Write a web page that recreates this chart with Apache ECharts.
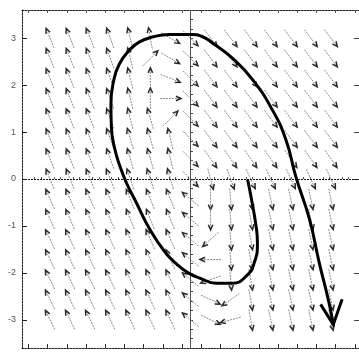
<!DOCTYPE html>
<html><head><meta charset="utf-8">
<script src="https://cdn.jsdelivr.net/npm/echarts@6/dist/echarts.min.js"></script>
<style>html,body{margin:0;padding:0;background:#fff}#c{width:359px;height:352px}</style>
</head><body><div id="c"></div>
<script>
// Direction-field grid (data units)
const gridX = [-3, -2.571, -2.143, -1.714, -1.286, -0.857, -0.429, 0, 0.429, 0.857, 1.286, 1.714, 2.143, 2.571, 3];
const gridY = [3, 2.571, 2.143, 1.714, 1.286, 0.857, 0.429, 0, -0.429, -0.857, -1.286, -1.714, -2.143, -2.571, -3];
// Arrow directions in degrees (counter-clockwise from +x), one row per gridY
const angleRows = [
  [112,112,112,110,104,100,-30,-45,-53,-53,-53,-53,-53,-53,-53],
  [112,112,112,110,104, 45,-30,-45,-53,-53,-53,-53,-53,-53,-53],
  [112,112,112,110,104, 90,-22,-45,-53,-53,-53,-53,-53,-53,-53],
  [112,112,112,110,104, 90,  0,-45,-53,-53,-53,-53,-53,-53,-53],
  [112,112,112,110,104,106, 45,-45,-53,-53,-53,-53,-53,-53,-53],
  [112,112,112,110,106,106,104,-45,-53,-53,-53,-53,-53,-53,-53],
  [112,112,112,110,106,106,104,-45,-55,-55,-55,-55,-55,-55,-55],
  [112,112,112,112,108,108,106,-45,-75,-70,-65,-65,-65,-65,-65],
  [114,114,114,114,112,112,112,140,-90,-85,-80,-78,-78,-78,-78],
  [114,114,114,114,112,112,112,140,-90,-85,-80,-78,-78,-78,-78],
  [115,115,115,115,114,114,114,140,222,-85,-80,-78,-78,-78,-78],
  [115,115,115,115,114,114,114,140,180,-85,-80,-78,-78,-78,-78],
  [116,116,116,116,115,115,115,140,200,-85,-80,-78,-78,-78,-78],
  [116,116,116,116,115,115,115,140,-25,215,-80,-78,-78,-78,-78],
  [116,116,116,116,115,115,115,140,-25,195,-80,-78,-78,-78,-78]
];
// Trajectory
const trajX = [1.22,1.29,1.40,1.43,1.36,1.19,0.90,0.55,0.20,-0.05,-0.30,-0.55,-0.87,-1.16,-1.37,-1.50,-1.62,-1.69,-1.70,-1.64,-1.52,-1.30,-1.09,-0.80,-0.45,0.01,0.26,0.48,0.90,1.33,1.75,2.04,2.25,2.54,2.75,2.96,3.05];
const trajY = [-0.01,-0.36,-1.00,-1.36,-1.79,-2.07,-2.22,-2.22,-2.11,-2.00,-1.81,-1.55,-1.07,-0.50,-0.08,0.25,0.65,1.10,1.60,2.10,2.45,2.75,2.92,3.03,3.08,3.08,3.03,2.89,2.57,2.11,1.47,0.83,0.05,-0.85,-1.78,-2.64,-3.10];
// Arrow head of the trajectory
const headX = [2.78, 3.05, 3.24];
const headY = [-2.67, -3.10, -2.56];
// Axis ticks
const yLabelValues = [-3,-2,-1,0,1,2,3];
const yMinorValues = [];
for (let v = -36; v <= 36; v += 2) yMinorValues.push(v/10);
const xMajorValues = [-3.47,-3.05,-2.64,-2.23,-1.82,-1.41,-1.0,-0.59,-0.18,0.23,0.64,1.05,1.46,1.87,2.28,2.69,3.1,3.51];
const xMinorValues = [];
for (let i = 0; i < xMajorValues.length - 1; i++) {
  const a = xMajorValues[i], b = xMajorValues[i+1];
  xMinorValues.push(a + (b-a)/3, a + 2*(b-a)/3);
}
const arrowLen = 0.45;

const arrowData = [];
gridY.forEach((y, r) => gridX.forEach((x, c) => arrowData.push([x, y, angleRows[r][c]])));

const chart = echarts.init(document.getElementById('c'), null, {renderer: 'canvas'});
const frameLine = {show: true, onZero: false, lineStyle: {color: '#222', width: 1, type: [2, 1]}};
const noLabel = {show: false};
chart.setOption({
  animation: false,
  backgroundColor: '#fff',
  grid: {left: 22, top: 10, width: 338, height: 338, containLabel: false},
  xAxis: [
    {type: 'value', min: -3.6, max: 3.6, position: 'bottom', axisLine: frameLine,
     axisTick: {show: true, inside: true, length: 4, customValues: xMajorValues, lineStyle: {color: '#333'}},
     axisLabel: noLabel, splitLine: {show: false}},
    {type: 'value', min: -3.6, max: 3.6, position: 'bottom', offset: 0, axisLine: {show: false},
     axisTick: {show: true, inside: true, length: 2, customValues: xMinorValues, lineStyle: {color: '#555'}},
     axisLabel: noLabel, splitLine: {show: false}},
    {type: 'value', min: -3.6, max: 3.6, position: 'top', axisLine: frameLine,
     axisTick: {show: true, inside: true, length: 3, customValues: xMajorValues, lineStyle: {color: '#555'}},
     axisLabel: noLabel, splitLine: {show: false}}
  ],
  yAxis: [
    {type: 'value', min: -3.6, max: 3.6, position: 'left', axisLine: frameLine,
     axisTick: {show: true, inside: true, length: 5, customValues: yLabelValues, lineStyle: {color: '#222'}},
     axisLabel: {show: true, customValues: yLabelValues, margin: 6, color: '#555', fontSize: 9, fontFamily: 'Liberation Sans'},
     splitLine: {show: false}},
    {type: 'value', min: -3.6, max: 3.6, position: 'left', offset: 0, axisLine: {show: false},
     axisTick: {show: true, inside: true, length: 2.5, customValues: yMinorValues, lineStyle: {color: '#444'}},
     axisLabel: noLabel, splitLine: {show: false}},
    {type: 'value', min: -3.6, max: 3.6, position: 'right', axisLine: frameLine,
     axisTick: {show: true, inside: true, length: 5, customValues: yLabelValues, lineStyle: {color: '#444'}},
     axisLabel: noLabel, splitLine: {show: false}}
  ],
  series: [
    {
      type: 'custom', xAxisIndex: 0, yAxisIndex: 0, silent: true, clip: true,
      data: arrowData,
      renderItem: function (params, api) {
        const x = api.value(0), y = api.value(1), a = api.value(2) * Math.PI / 180;
        const dx = Math.cos(a) * arrowLen / 2, dy = Math.sin(a) * arrowLen / 2;
        const p0 = api.coord([x - dx, y - dy]), p1 = api.coord([x + dx, y + dy]);
        const ang = Math.atan2(p1[1] - p0[1], p1[0] - p0[0]);
        const h = 5.5, w = 0.42;
        const l = [p1[0] - h * Math.cos(ang - w), p1[1] - h * Math.sin(ang - w)];
        const rr = [p1[0] - h * Math.cos(ang + w), p1[1] - h * Math.sin(ang + w)];
        return {type: 'group', children: [
          {type: 'line', shape: {x1: p0[0], y1: p0[1], x2: p1[0], y2: p1[1]},
           style: {stroke: '#8a8a8a', lineWidth: 1, lineDash: [2, 1]}},
          {type: 'polyline', shape: {points: [l, p1, rr]},
           style: {stroke: '#2a2a2a', lineWidth: 1.5, fill: null}}
        ]};
      },
      markLine: {
        silent: true, symbol: 'none', label: {show: false},
        data: [
          {yAxis: 0, lineStyle: {color: '#111', width: 1, type: [2, 1]}},
          {xAxis: 0, lineStyle: {color: '#555', width: 1, type: 'solid'}}
        ]
      },
      z: 2
    },
    {
      type: 'line', xAxisIndex: 0, yAxisIndex: 0, silent: true,
      data: trajX.map((x, i) => [x, trajY[i]]),
      smooth: 0.5, showSymbol: false, symbol: 'none',
      lineStyle: {color: '#000', width: 3}, z: 5
    },
    {
      type: 'line', xAxisIndex: 0, yAxisIndex: 0, silent: true,
      data: headX.map((x, i) => [x, headY[i]]),
      showSymbol: false, symbol: 'none',
      lineStyle: {color: '#000', width: 3, join: 'miter'}, z: 5
    }
  ]
});
</script>
</body></html>
